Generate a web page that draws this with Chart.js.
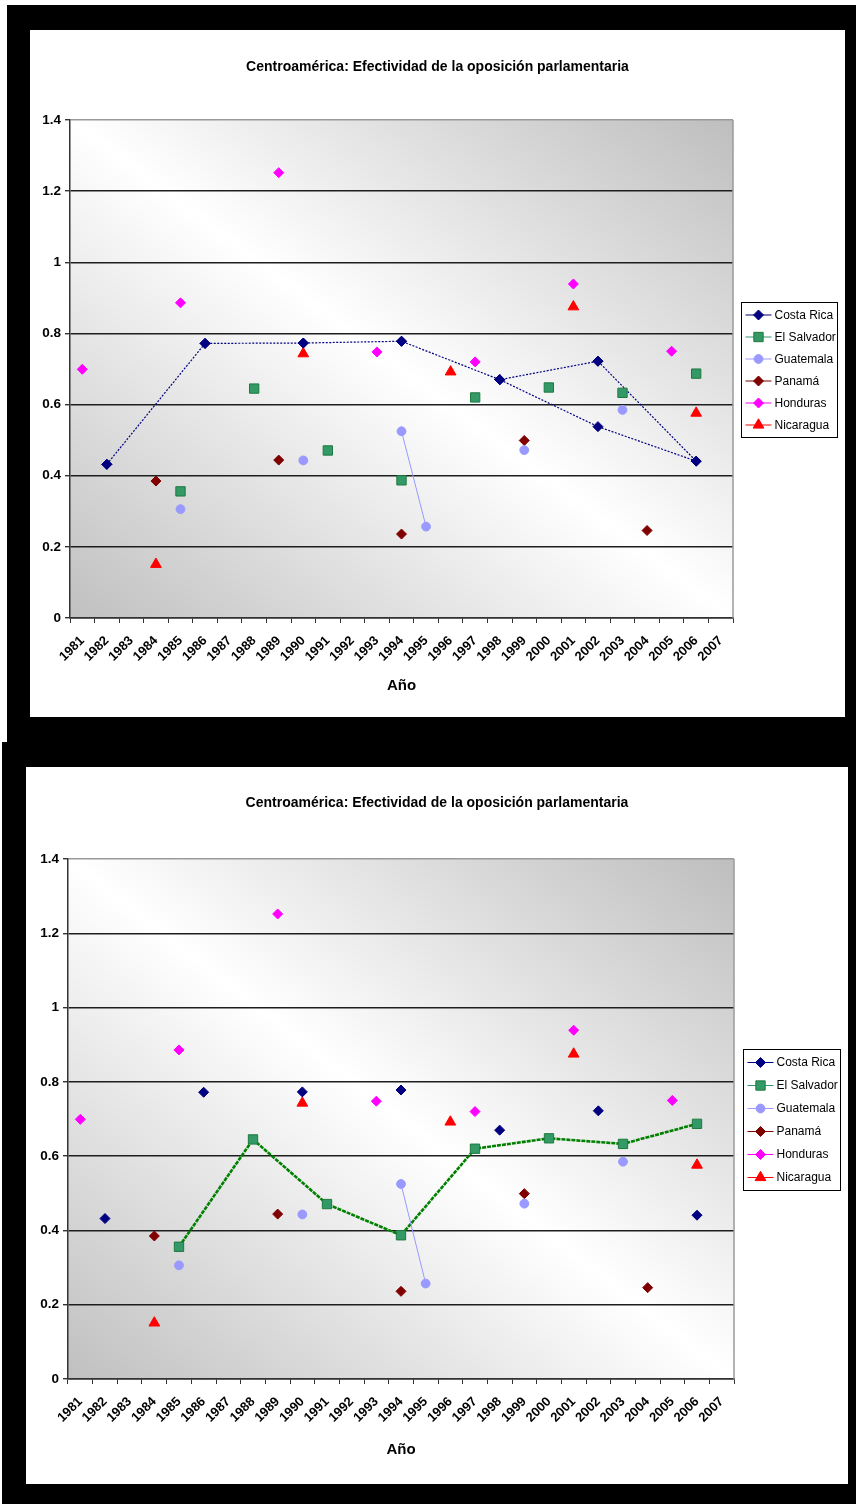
<!DOCTYPE html>
<html>
<head>
<meta charset="utf-8">
<title>Centroamérica: Efectividad de la oposición parlamentaria</title>
<script src="https://cdn.jsdelivr.net/npm/chart.js@4.4.1/dist/chart.umd.min.js"></script>
<style>
  html, body { margin: 0; padding: 0; background: #fff; }
  body { width: 856px; height: 1504px; position: relative; overflow: hidden; }
  .frame { position: absolute; background: #000; }
  canvas { position: absolute; background: #fff; }
</style>
</head>
<body>
<div class="frame" style="left:7px;top:5px;width:849px;height:737px"></div>
<div class="frame" style="left:2px;top:742px;width:854px;height:762px"></div>
<canvas id="chartTop" width="815" height="687" style="left:30px;top:30px;width:815px;height:687px"></canvas>
<canvas id="chartBottom" width="822" height="717" style="left:26px;top:767px;width:822px;height:717px"></canvas>
<script>
// ---- data ----
const chartTitle = 'Centroamérica: Efectividad de la oposición parlamentaria';
const axisTitle = 'Año';
const years = ['1981','1982','1983','1984','1985','1986','1987','1988','1989','1990',
               '1991','1992','1993','1994','1995','1996','1997','1998','1999','2000',
               '2001','2002','2003','2004','2005','2006','2007'];
const yTicks = [0, 0.2, 0.4, 0.6, 0.8, 1, 1.2, 1.4];

const costaRica  = [null, 0.432, null, null, null, 0.772, null, null, null, 0.773, null, null, null, 0.778, null, null, null, 0.670, null, null, null, 0.722, null, null, null, 0.441, null];
const elSalvador = [null, null, null, null, 0.356, null, null, 0.645, null, null, 0.471, null, null, 0.387, null, null, 0.620, null, null, 0.648, null, null, 0.633, null, null, 0.687, null];
const guatemala  = [null, null, null, null, 0.306, null, null, null, null, 0.443, null, null, null, 0.525, 0.257, null, null, null, 0.472, null, null, null, 0.585, null, null, null, null];
const panama     = [null, null, null, 0.385, null, null, null, null, 0.444, null, null, null, null, 0.236, null, null, null, null, 0.499, null, null, null, null, 0.246, null, null, null];
const honduras   = [0.699, null, null, null, 0.886, null, null, null, 1.252, null, null, null, 0.748, null, null, null, 0.720, null, null, null, 0.939, null, null, null, 0.750, null, null];
const nicaragua  = [null, null, null, 0.151, null, null, null, null, null, 0.743, null, null, null, null, null, 0.692, null, null, null, null, 0.875, null, null, null, null, 0.576, null];

// hand-drawn Costa Rica connector on the first chart (drawn in this order)
const crPathYears  = ['1982', '1986', '1990', '1994', '1998', '2002', '2006', '2002', '1998'];
const crPathValues = [0.432, 0.772, 0.773, 0.778, 0.670, 0.538, 0.441, 0.722, 0.670];

// ---- styling ----
const FONT = "'Liberation Sans Narrow', 'Arial Narrow', 'Liberation Sans', Arial, sans-serif";
Chart.defaults.font.family = FONT;
Chart.defaults.color = '#000';

const seriesStyle = [
  { label: 'Costa Rica',  data: costaRica,  line: '#000080', fill: '#000080', edge: '#000080', shape: 'rectRot',  r: 5.0 },
  { label: 'El Salvador', data: elSalvador, line: '#339966', fill: '#339966', edge: '#1d7a3e', shape: 'rect',     r: 6.6 },
  { label: 'Guatemala',   data: guatemala,  line: '#9999FF', fill: '#9999FF', edge: '#9999FF', shape: 'circle',   r: 4.4 },
  { label: 'Panamá',      data: panama,     line: '#800000', fill: '#800000', edge: '#800000', shape: 'rectRot',  r: 5.0 },
  { label: 'Honduras',    data: honduras,   line: '#FF00FF', fill: '#FF00FF', edge: '#FF00FF', shape: 'rectRot',  r: 5.0 },
  { label: 'Nicaragua',   data: nicaragua,  line: '#FF0000', fill: '#FF0000', edge: '#FF0000', shape: 'triangle', r: 6.2 }
];

function baseDatasets() {
  return seriesStyle.map(s => ({
    label: s.label,
    data: s.data,
    borderColor: s.line,
    borderWidth: 1,
    spanGaps: false,
    pointStyle: s.shape,
    pointRadius: s.r,
    pointHoverRadius: s.r,
    pointBackgroundColor: s.fill,
    pointBorderColor: s.edge,
    pointBorderWidth: 1,
    order: 0
  }));
}

// plot-area gradient: grey at top-right and bottom-left, white along the other diagonal
const plotBackground = {
  id: 'plotBackground',
  beforeDraw(chart) {
    const { ctx, chartArea: a } = chart;
    const w = a.right - a.left, h = a.bottom - a.top;
    const cx = (a.left + a.right) / 2, cy = (a.top + a.bottom) / 2;
    const L = Math.sqrt(w * w + h * h);
    const k = w * h / L;
    const ux = h / L, uy = -w / L;
    const g = ctx.createLinearGradient(cx + ux * k, cy + uy * k, cx - ux * k, cy - uy * k);
    g.addColorStop(0, '#bebebe');
    g.addColorStop(0.5, '#ffffff');
    g.addColorStop(1, '#c0c0c0');
    ctx.save();
    ctx.fillStyle = g;
    ctx.fillRect(a.left, a.top, w, h);
    ctx.restore();
  },
  beforeDatasetsDraw(chart) {
    const { ctx, chartArea: a } = chart;
    ctx.save();
    ctx.strokeStyle = '#9a9a9a';
    ctx.lineWidth = 1.5;
    ctx.beginPath();
    ctx.moveTo(a.right, a.top);
    ctx.lineTo(a.right, a.bottom);
    ctx.stroke();
    ctx.restore();
  }
};

const chartHeading = {
  id: 'chartHeading',
  afterDraw(chart, args, opts) {
    const ctx = chart.ctx;
    ctx.save();
    ctx.font = 'bold 14px ' + FONT;
    ctx.fillStyle = '#000';
    ctx.textAlign = 'center';
    ctx.textBaseline = 'middle';
    ctx.fillText(opts.text, chart.width / 2, opts.y);
    ctx.restore();
  }
};

// boxed legend with a line-and-marker sample for each series
const boxLegend = {
  id: 'boxLegend',
  afterDraw(chart, args, opts) {
    const { ctx, chartArea: a } = chart;
    const items = chart.data.datasets.filter(d => !d.skipLegend);
    const rowH = opts.rowH, w = opts.width;
    const h = rowH * items.length + 3;
    const x0 = Math.round(a.right + opts.gap) + 0.5;
    const y0 = Math.round((a.top + a.bottom) / 2 - h / 2) + 0.5;
    ctx.save();
    ctx.fillStyle = '#fff';
    ctx.fillRect(x0, y0, w, h);
    ctx.strokeStyle = '#000';
    ctx.lineWidth = 1;
    ctx.strokeRect(x0, y0, w, h);
    items.forEach((d, i) => {
      const cy = y0 + 1.5 + rowH * (i + 0.5);
      ctx.strokeStyle = d.borderColor;
      ctx.lineWidth = 1;
      ctx.setLineDash([]);
      ctx.beginPath();
      ctx.moveTo(x0 + 4, cy);
      ctx.lineTo(x0 + 30, cy);
      ctx.stroke();
      ctx.fillStyle = d.pointBackgroundColor;
      ctx.strokeStyle = d.pointBorderColor;
      ctx.lineWidth = d.pointBorderWidth;
      Chart.helpers.drawPoint(ctx, {
        pointStyle: d.pointStyle, radius: d.pointRadius,
        borderWidth: d.pointBorderWidth, rotation: 0
      }, x0 + 17, cy);
      ctx.fillStyle = '#000';
      ctx.font = '12px ' + FONT;
      ctx.textAlign = 'left';
      ctx.textBaseline = 'middle';
      ctx.fillText(d.label, x0 + 33, cy + 0.5);
    });
    ctx.restore();
  }
};

function makeChart(id, geo, extra) {
  return new Chart(document.getElementById(id), {
    type: 'line',
    data: { labels: years, datasets: extra.concat(baseDatasets()) },
    options: {
      responsive: false,
      animation: false,
      devicePixelRatio: 1,
      layout: { padding: { left: 0, top: geo.padTop, right: geo.padRight, bottom: 0 } },
      elements: { line: { tension: 0 } },
      plugins: {
        legend: { display: false },
        tooltip: { enabled: false },
        chartHeading: { text: chartTitle, y: geo.titleY },
        boxLegend: { rowH: geo.rowH, width: geo.legendW, gap: geo.legendGap }
      },
      scales: {
        x: {
          type: 'category',
          offset: true,
          grid: { drawOnChartArea: false, offset: true, tickLength: 5, color: '#333', tickColor: '#333', lineWidth: 1 },
          border: { color: '#333', width: 1.5 },
          ticks: {
            autoSkip: false, minRotation: 45, maxRotation: 45, padding: 10,
            color: '#000', font: { size: 13, weight: 'bold' }
          },
          title: {
            display: true, text: axisTitle, color: '#000',
            font: { size: 15, weight: 'bold' },
            padding: { top: 0, bottom: geo.xTitlePad }
          },
          afterFit(scale) { scale.height = geo.xHeight; }
        },
        y: {
          min: 0, max: 1.4,
          afterBuildTicks(scale) { scale.ticks = yTicks.map(v => ({ value: v })); },
          ticks: {
            padding: 4, color: '#000', font: { size: 13.5, weight: 'bold' },
            callback: v => String(Math.round(v * 10) / 10)
          },
          grid: {
            color: c => (c.tick && c.tick.value > 1.39) ? '#9a9a9a' : '#1e1e1e',
            lineWidth: 1.4, tickLength: 5, tickColor: '#333'
          },
          border: { color: '#333', width: 1.5 },
          afterFit(scale) { scale.width = geo.yWidth; }
        }
      }
    },
    plugins: [plotBackground, chartHeading, boxLegend]
  });
}

// first chart: Costa Rica trajectory joined by a dotted line
makeChart('chartTop', {
  padTop: 90, padRight: 112, yWidth: 40, xHeight: 99, xTitlePad: 22,
  titleY: 37, rowH: 22, legendW: 96, legendGap: 8
}, [{
  label: 'Costa Rica',
  skipLegend: true,
  data: crPathYears.map((yr, i) => ({ x: yr, y: crPathValues[i] })),
  borderColor: '#000080',
  borderWidth: 1.2,
  borderDash: [2, 1.5],
  pointStyle: 'rectRot',
  pointRadius: 5.0,
  pointBackgroundColor: '#000080',
  pointBorderColor: '#000080',
  pointBorderWidth: 1,
  order: 1
}]);

// second chart: El Salvador trajectory joined by a green line
makeChart('chartBottom', {
  padTop: 92, padRight: 114, yWidth: 42, xHeight: 105, xTitlePad: 25,
  titleY: 36, rowH: 23, legendW: 97, legendGap: 9
}, [{
  label: 'El Salvador',
  skipLegend: true,
  data: elSalvador,
  spanGaps: true,
  borderColor: '#008000',
  borderWidth: 2.6,
  borderDash: [4, 1],
  pointRadius: 0,
  order: 1
}]);
</script>
</body>
</html>
